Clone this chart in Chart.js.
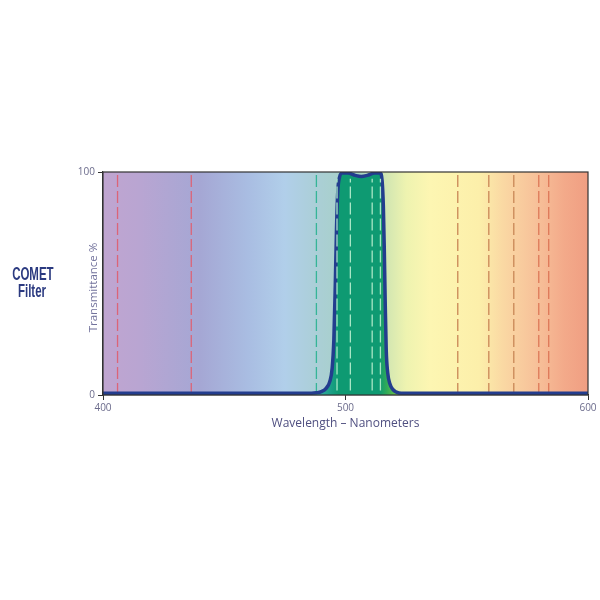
<!DOCTYPE html>
<html>
<head>
<meta charset="utf-8">
<script src="https://cdn.jsdelivr.net/npm/chart.js@4"></script>
<style>
	html, body { margin: 0; padding: 0; background: #fff; }
	.wrap { position: relative; width: 600px; height: 600px; }
	.label {
		position: absolute;
		left: 0;
		width: 64px;
		top: 265px;
		text-align: center;
		font-family: "Liberation Sans", Arial, sans-serif;
		font-weight: bold;
		color: #2b3a80;
		line-height: 17px;
		font-size: 18.5px;
		transform: scaleX(0.62);
		transform-origin: 32px 0;
	}
</style>
</head>
<body>
<div class="wrap">
	<canvas id="filterChart" width="600" height="600"></canvas>
	<div class="label"><div>COMET</div><div>Filter</div></div>
</div>
<script>
// filter transmission curve (nm, %)
const wavelengths = [400, 486, 488, 490, 492, 493.5, 494.5, 495.2, 495.8, 496.3, 496.8, 497.5, 498.5, 501, 504, 506.5, 509, 512, 514.3, 515.1, 515.6, 516, 516.4, 516.8, 517.4, 518.3, 519.5, 521, 523, 600];
const transmission = [0.8, 0.8, 1, 1.5, 3, 6, 12, 25, 50, 75, 91, 97.5, 99.5, 99.5, 98.5, 98, 98.5, 99.5, 99.5, 96, 85, 65, 40, 20, 10, 5, 2.5, 1.3, 0.8, 0.8];

// emission lines marked on the chart (nm)
const blueLines = [406, 436.4];
const tealLines = [488];
const bandLines = [496.5, 502, 511, 514.4];
const amberLines = [546.3, 559.1, 569.4];
const redLines = [579.7, 583.8];

const xTicks = [400, 500, 600];
const yTicks = [0, 100];

// spectrum background
const spectrumStops = [
	[400, '#c0a5d0'], [415, '#b9a5d2'], [440, '#a5a7d4'], [460, '#a9bde2'],
	[475, '#b1cfea'], [490, '#aacfd4'], [505, '#a6d2c2'], [515, '#cbe3b2'],
	[525, '#eef3b0'], [535, '#fdf6b2'], [555, '#fcefaa'], [565, '#fad8a3'],
	[578, '#f7c29a'], [590, '#f3aa8a'], [600, '#f09e82']
];

document.addEventListener("DOMContentLoaded", () => {
	initFilterChart();
});

function dashSet(list, color, y0, y1, order) {
	return list.map(w => ({
		data: [{ x: w, y: y0 }, { x: w, y: y1 }],
		borderColor: color,
		borderWidth: 1.3,
		borderDash: [12, 4],
		pointRadius: 0,
		fill: false,
		order: order
	}));
}

function bandFill(context) {
	const chart = context.chart;
	const { chartArea: a, scales: { x } } = chart;
	if (!a) return '#0e9a72';
	const g = chart.ctx.createLinearGradient(a.left, 0, a.right, 0);
	const pos = w => (x.getPixelForValue(w) - a.left) / (a.right - a.left);
	g.addColorStop(pos(488), '#3aaca6');
	g.addColorStop(pos(494), '#1a9f86');
	g.addColorStop(pos(497), '#0e9a72');
	g.addColorStop(pos(514), '#0e9a72');
	g.addColorStop(pos(517), '#30aa58');
	g.addColorStop(pos(521), '#6cc24a');
	return g;
}

function initFilterChart() {
	const ctx = document.getElementById("filterChart");
	if (!ctx) return;

	const spectrumBg = {
		id: 'spectrumBg',
		beforeDatasetsDraw(chart) {
			const { ctx, chartArea: a, scales: { x } } = chart;
			const g = ctx.createLinearGradient(a.left, 0, a.right, 0);
			spectrumStops.forEach(([w, c]) => {
				g.addColorStop((x.getPixelForValue(w) - a.left) / (a.right - a.left), c);
			});
			ctx.save();
			ctx.fillStyle = g;
			ctx.fillRect(a.left, a.top, a.right - a.left, a.bottom - a.top);
			ctx.restore();
		},
		afterDraw(chart) {
			const { ctx, chartArea: a } = chart;
			ctx.save();
			ctx.strokeStyle = '#333';
			ctx.lineWidth = 1.2;
			ctx.strokeRect(a.left, a.top, a.right - a.left, a.bottom - a.top);
			// y title
			ctx.translate(a.left - 9, (a.top + a.bottom) / 2 + 4);
			ctx.rotate(-Math.PI / 2);
			ctx.fillStyle = '#72729c';
			ctx.font = '11.5px "Open Sans", sans-serif';
			ctx.textAlign = 'center';
			ctx.textBaseline = 'middle';
			ctx.fillText('Transmittance %', 0, 0);
			ctx.restore();
		}
	};

	const curve = {
		data: wavelengths.map((w, i) => ({ x: w, y: transmission[i] })),
		borderColor: '#233d8e',
		borderWidth: 3.5,
		backgroundColor: bandFill,
		fill: 'origin',
		pointRadius: 0,
		cubicInterpolationMode: 'monotone',
		order: 2
	};

	new Chart(ctx, {
		type: 'line',
		data: {
			datasets: [
				...dashSet(blueLines, '#dc6478', 0, 100, 3),
				...dashSet(tealLines, '#35b598', 0, 100, 3),
				...dashSet(amberLines, '#c98656', 0, 100, 3),
				...dashSet(redLines, '#de7858', 0, 100, 3),
				curve,
				...dashSet(bandLines, '#a8e6c6', 2, 97, 1)
			]
		},
		options: {
			responsive: false,
			animation: false,
			layout: { padding: { left: 63, right: 12, top: 172, bottom: 165 } },
			plugins: {
				legend: { display: false },
				tooltip: { enabled: false }
			},
			scales: {
				x: {
					type: 'linear',
					min: 400,
					max: 600,
					afterBuildTicks: scale => { scale.ticks = xTicks.map(v => ({ value: v })); },
					afterFit: scale => { scale.height = 40; },
					grid: { display: true, drawOnChartArea: false, tickLength: 5, color: '#333' },
					border: { color: '#333', width: 1.2 },
					ticks: { color: '#6c6c8c', font: { size: 10, family: '"Open Sans", sans-serif' }, padding: 2 },
					title: {
						display: true,
						text: 'Wavelength – Nanometers',
						color: '#4f4f80',
						font: { size: 12, family: '"Open Sans", sans-serif' },
						padding: { top: 0 }
					}
				},
				y: {
					min: 0,
					max: 100,
					afterBuildTicks: scale => { scale.ticks = yTicks.map(v => ({ value: v })); },
					afterFit: scale => { scale.width = 40; },
					grid: { display: true, drawOnChartArea: false, tickLength: 5, color: '#333' },
					border: { color: '#333', width: 1.2 },
					ticks: { color: '#6c6c8c', font: { size: 10, family: '"Open Sans", sans-serif' }, padding: 3 }
				}
			}
		},
		plugins: [spectrumBg]
	});
}
</script>
</body>
</html>
